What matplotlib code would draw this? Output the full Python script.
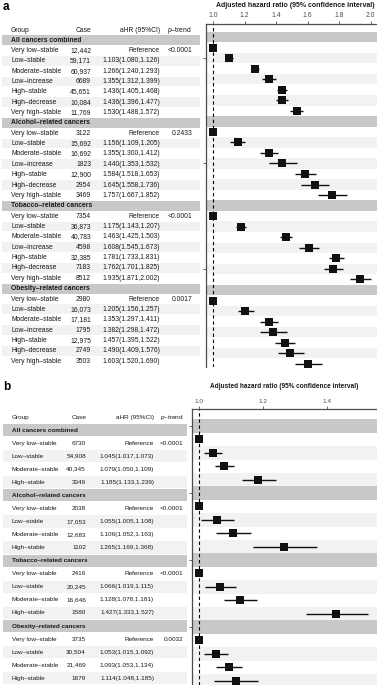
import matplotlib
matplotlib.use("Agg")
import matplotlib.pyplot as plt
from matplotlib.patches import Rectangle
from matplotlib.ticker import MultipleLocator

plt.rcParams['font.family'] = ['Liberation Sans', 'DejaVu Sans']
plt.rcParams['mathtext.fontset'] = 'custom'
plt.rcParams['mathtext.rm'] = 'Liberation Sans'
plt.rcParams['mathtext.it'] = 'Liberation Sans:italic'

# ---------------- data ----------------
groups = ["All cancers combined", "Alcohol–related cancers",
          "Tobacco–related cancers", "Obesity–related cancers"]

traj_a = ["Very low–stable", "Low–stable", "Moderate–stable", "Low–increase",
          "High–stable", "High–decrease", "Very high–stable"]
cases_a = [[12442, 59171, 60937, 6689, 45651, 10084, 11769],
           [3122, 15692, 16692, 1823, 12900, 2954, 3469],
           [7354, 36873, 40783, 4598, 32385, 7183, 8512],
           [2980, 16073, 17181, 1795, 12975, 2749, 3503]]
hr_a = [[1.0, 1.103, 1.266, 1.355, 1.436, 1.436, 1.530],
        [1.0, 1.156, 1.355, 1.440, 1.584, 1.645, 1.757],
        [1.0, 1.175, 1.463, 1.608, 1.781, 1.762, 1.935],
        [1.0, 1.205, 1.353, 1.382, 1.457, 1.490, 1.603]]
lo_a = [[1.0, 1.080, 1.240, 1.312, 1.405, 1.396, 1.488],
        [1.0, 1.109, 1.300, 1.353, 1.518, 1.558, 1.667],
        [1.0, 1.143, 1.425, 1.545, 1.733, 1.701, 1.871],
        [1.0, 1.156, 1.297, 1.298, 1.395, 1.409, 1.520]]
hi_a = [[1.0, 1.126, 1.293, 1.399, 1.468, 1.477, 1.572],
        [1.0, 1.205, 1.412, 1.532, 1.653, 1.736, 1.852],
        [1.0, 1.207, 1.503, 1.673, 1.831, 1.825, 2.002],
        [1.0, 1.257, 1.411, 1.472, 1.522, 1.576, 1.690]]
p_a = ["<0.0001", "0.2433", "<0.0001", "0.0017"]
xticks_a = [1.0, 1.2, 1.4, 1.6, 1.8, 2.0]

traj_b = ["Very low–stable", "Low–stable", "Moderate–stable", "High–stable"]
cases_b = [[6730, 54908, 40345, 3349],
           [2038, 17053, 12683, 1102],
           [2416, 20245, 16646, 1580],
           [3735, 30504, 21469, 1679]]
hr_b = [[1.0, 1.045, 1.079, 1.185],
        [1.0, 1.055, 1.106, 1.265],
        [1.0, 1.066, 1.128, 1.427],
        [1.0, 1.053, 1.093, 1.114]]
lo_b = [[1.0, 1.017, 1.050, 1.133],
        [1.0, 1.005, 1.052, 1.169],
        [1.0, 1.019, 1.078, 1.333],
        [1.0, 1.015, 1.053, 1.048]]
hi_b = [[1.0, 1.073, 1.109, 1.239],
        [1.0, 1.108, 1.163, 1.368],
        [1.0, 1.115, 1.181, 1.527],
        [1.0, 1.092, 1.134, 1.185]]
p_b = ["<0.0001", "<0.0001", "<0.0001", "0.0032"]
xticks_b = [1.0, 1.2, 1.4]

headers = ["Group", "Case", "aHR (95%CI)", r"$\it{p}$–trend"]
x_title = "Adjusted hazard ratio (95% confidence interval)"

# ---------------- styling ----------------
W, H = 377, 685
HDR = '#c8c8c8'
ALT = '#f2f2f2'
TXT = '#1a1a1a'
AX = '#4d4d4d'

fig = plt.figure(figsize=(W / 100, H / 100), dpi=100)
bg = fig.add_axes([0, 0, 1, 1])
bg.set_xlim(0, W)
bg.set_ylim(H, 0)
bg.axis('off')


def fmt_case(c):
    return f"{c:,}" if c >= 10000 else str(c)


def add_px_axes(l, r, t, b):
    return fig.add_axes([l / W, 1 - b / H, (r - l) / W, (b - t) / H])


def panel(letter, ly, traj, cases, hr, lo, hi, pv, xticks, fs,
          tab, plot, step):
    # tab: dict with layout of table ; plot: layout of forest axes
    bg.text(3, ly, letter, fontsize=8.5, fontweight='bold', va='center',
            ha='left', color='black')
    rows = []
    for g, name in enumerate(groups):
        rows.append(('h', g, None))
        for j in range(len(traj)):
            rows.append(('d', g, j))
    n = len(rows)

    # ---- table ----
    hy = tab['hy']
    bg.text(tab['xg'], hy, headers[0], fontsize=fs, ha='left', va='center', color=TXT)
    bg.text(tab['xc'], hy, headers[1], fontsize=fs, ha='right', va='center', color=TXT)
    bg.text(tab['xh'], hy, headers[2], fontsize=fs, ha='right', va='center', color=TXT)
    bg.text(tab['xp'], hy, headers[3], fontsize=fs, ha='right', va='center', color=TXT)
    for i, (kind, g, j) in enumerate(rows):
        y = tab['y0'] + i * tab['dy']
        h = tab['dy'] * 0.94
        if kind == 'h':
            bg.add_patch(Rectangle((tab['b0'], y - h / 2), tab['b1'] - tab['b0'], h,
                                   color=HDR, lw=0))
            bg.text(tab['xg'], y, groups[g], fontsize=fs, fontweight='bold',
                    ha='left', va='center', color=TXT)
        else:
            if j % 2 == 1:
                bg.add_patch(Rectangle((tab['b0'], y - h / 2), tab['b1'] - tab['b0'], h,
                                       color=ALT, lw=0))
            bg.text(tab['xg'], y, traj[j], fontsize=fs, ha='left', va='center', color=TXT)
            bg.text(tab['xc'], y, fmt_case(cases[g][j]), fontsize=fs, ha='right',
                    va='center', color=TXT)
            if j == 0:
                s = "Reference"
                bg.text(tab['xp'], y, pv[g], fontsize=fs, ha='right', va='center',
                        color=TXT)
            else:
                s = f"{hr[g][j]:.3f}({lo[g][j]:.3f},{hi[g][j]:.3f})"
            bg.text(tab['xh'], y, s, fontsize=fs, ha='right', va='center', color=TXT)

    # ---- forest ----
    ax = add_px_axes(plot['l'], plot['r'], plot['t'], plot['b'])
    ax.set_xlim(plot['xl'], plot['xr'])
    dy = plot['dy']
    top = n + (plot['y0'] - plot['t']) / dy
    bottom = n - (plot['b'] - plot['y0']) / dy
    ax.set_ylim(bottom, top)
    ax.set_facecolor('none')
    for i, (kind, g, j) in enumerate(rows):
        yv = n - i
        if kind == 'h':
            ax.axhspan(yv - 0.5, yv + 0.5, color=HDR, lw=0, zorder=0)
        else:
            if j % 2 == 1:
                ax.axhspan(yv - 0.5, yv + 0.5, color=ALT, lw=0, zorder=0)
    ax.axvline(1.0, color='black', lw=0.8, ls=(0, (3, 2.5)), zorder=1)
    for i, (kind, g, j) in enumerate(rows):
        if kind != 'd':
            continue
        yv = n - i
        if j > 0:
            ax.plot([lo[g][j], hi[g][j]], [yv, yv], color='#111111', lw=1.0,
                    solid_capstyle='butt', zorder=2)
        ax.plot([hr[g][j]], [yv], marker='s', ms=5.2, color='#111111', mec='#111111',
                mew=0, zorder=3, clip_on=False)
    ax.xaxis.tick_top()
    ax.set_xticks(xticks)
    ax.set_xticklabels([f"{v:.1f}" for v in xticks])
    ax.yaxis.set_major_locator(MultipleLocator(step))
    ax.set_yticklabels([])
    ax.tick_params(axis='x', which='both', length=2, width=0.6, color=AX,
                   labelsize=fs, labelcolor=AX, pad=1.5)
    ax.tick_params(axis='y', length=2.5, width=0.6, color=AX)
    for s in ('right', 'bottom'):
        ax.spines[s].set_visible(False)
    for s in ('left', 'top'):
        ax.spines[s].set_color(AX)
        ax.spines[s].set_linewidth(0.9)
    bg.text(plot['tx'], plot['ty'], x_title, fontsize=fs + 0.1, ha='center',
            va='center', color=TXT, fontweight='bold')
    return ax


panel('a', 7, traj_a, cases_a, hr_a, lo_a, hi_a, p_a, xticks_a, 4.9,
      tab=dict(hy=30.5, y0=40, dy=10.36, xg=11, xc=91, xh=160, xp=192, b0=2, b1=200),
      plot=dict(l=206, r=377, t=24, b=367, y0=37, dy=10.54, xl=0.955, xr=2.04,
                tx=295, ty=5.5),
      step=10)

panel('b', 387, traj_b, cases_b, hr_b, lo_b, hi_b, p_b, xticks_b, 4.6,
      tab=dict(hy=417, y0=430, dy=13.07, xg=12, xc=86, xh=154, xp=183, b0=3, b1=187),
      plot=dict(l=192, r=377, t=409, b=685, y0=426, dy=13.4, xl=0.978, xr=1.556,
                tx=284, ty=386.5),
      step=5)

fig.savefig("out.png", dpi=100)
